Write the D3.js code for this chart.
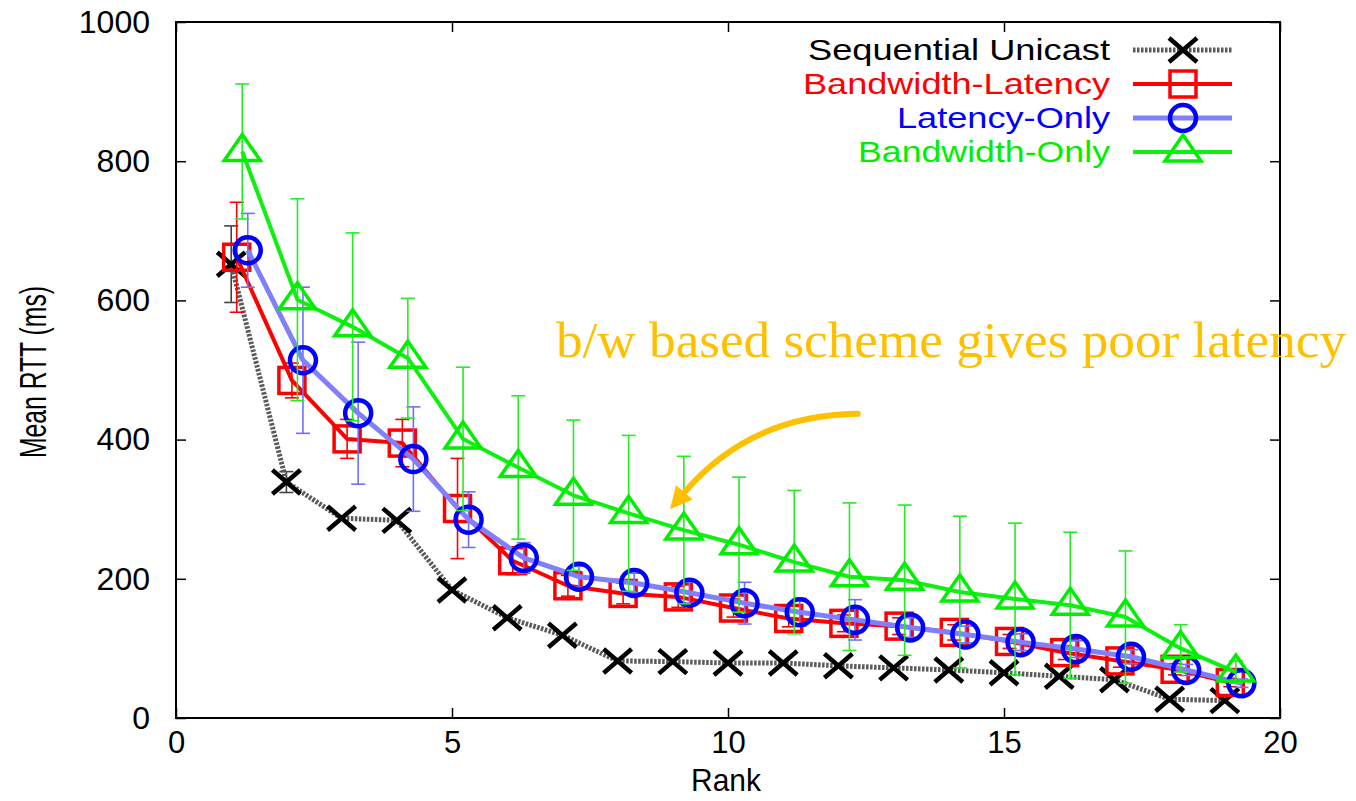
<!DOCTYPE html>
<html lang="en">
<head>
<meta charset="UTF-8">
<title>Mean RTT by Rank</title>
<script src="https://d3js.org/d3.v7.min.js"></script>
<style>
  body { margin: 0; background: #fff; }
</style>
</head>
<body>
<svg width="1356" height="801" id="canvas" font-family="Liberation Sans, Arial, sans-serif"></svg>
<script>
// data
const ranks = [1, 2, 3, 4, 5, 6, 7, 8, 9, 10, 11, 12, 13, 14, 15, 16, 17, 18, 19];

const seqMean = [652, 339, 287, 284, 184, 144, 119, 82, 81, 79, 79, 75, 72, 69, 65, 60, 55, 27, 25];
const seqErr  = [55, 15, 0, 0, 0, 0, 0, 0, 0, 0, 0, 0, 0, 0, 0, 0, 0, 0, 0];

const bwLatMean = [662, 485, 401, 395, 301, 226, 190, 179, 174, 158, 143, 136, 132, 123, 110, 94, 82, 70, 51];
const bwLatErr  = [79, 25, 28, 34, 72, 20, 15, 15, 15, 13, 12, 12, 12, 11, 10, 10, 9, 8, 6];

const latMean = [672, 514, 438, 372, 285, 230, 203, 194, 180, 165, 152, 141, 130, 120, 109, 99, 88, 69, 50];
const latErr  = [53, 105, 102, 75, 40, 22, 15, 14, 15, 30, 20, 29, 14, 12, 12, 12, 10, 8, 6];

const bwMean = [814, 601, 562, 517, 401, 360, 320, 294, 270, 249, 224, 203, 198, 181, 171, 162, 145, 100, 66];
const bwErr  = [97, 145, 135, 86, 103, 103, 108, 112, 106, 97, 103, 106, 108, 109, 109, 105, 95, 34, 16];

const xTicks = [0, 5, 10, 15, 20];
const yTicks = [0, 200, 400, 600, 800, 1000];

const series = [
  { name: "Sequential Unicast", mean: seqMean, err: seqErr, dx: 0,   marker: "x",
    color: "#000", line: "#5a5a5a", width: 5, dash: "2.5,1.5", errColor: "#444", textLen: 302 },
  { name: "Bandwidth-Latency", mean: bwLatMean, err: bwLatErr, dx: 0.1, marker: "square",
    color: "#ff0000", line: "#ff0000", width: 4, dash: null, errColor: "#ff0000", textLen: 307 },
  { name: "Latency-Only", mean: latMean, err: latErr, dx: 0.3, marker: "circle",
    color: "#0000ff", line: "#8080ff", width: 5, dash: null, errColor: "#6f6fff", textLen: 213 },
  { name: "Bandwidth-Only", mean: bwMean, err: bwErr, dx: 0.2, marker: "triangle",
    color: "#00ee00", line: "#11ee11", width: 4, dash: null, errColor: "#22ee22", textLen: 252 }
];

const svg = d3.select("svg");
const plotL = 176, plotR = 1280, plotT = 22, plotB = 718;

const x = d3.scaleLinear().domain([0, 20]).range([plotL, plotR]);
const y = d3.scaleLinear().domain([0, 1000]).range([plotB, plotT]);

// axes, ticks pointing inward
svg.append("g")
  .attr("transform", `translate(0,${plotB})`)
  .call(d3.axisBottom(x).tickValues(xTicks).tickFormat(d3.format("d"))
    .tickSizeInner(-10).tickSizeOuter(0).tickPadding(13))
  .call(g => g.select(".domain").remove())
  .call(g => g.selectAll("text").attr("font-size", 31).attr("fill", "#000")
    .attr("font-family", "Liberation Sans"));

svg.append("g")
  .attr("transform", `translate(0,${plotT})`)
  .call(d3.axisTop(x).tickValues(xTicks).tickSizeInner(-10).tickSizeOuter(0).tickFormat(""))
  .call(g => g.select(".domain").remove());

svg.append("g")
  .attr("transform", `translate(${plotL},0)`)
  .call(d3.axisLeft(y).tickValues(yTicks).tickFormat(d3.format("d"))
    .tickSizeInner(-10).tickSizeOuter(0).tickPadding(26))
  .call(g => g.select(".domain").remove())
  .call(g => g.selectAll("text").attr("font-size", 32).attr("fill", "#000")
    .attr("font-family", "Liberation Sans"));

svg.append("g")
  .attr("transform", `translate(${plotR},0)`)
  .call(d3.axisRight(y).tickValues(yTicks).tickSizeInner(-10).tickSizeOuter(0).tickFormat(""))
  .call(g => g.select(".domain").remove());

svg.selectAll(".tick line").attr("stroke", "#000").attr("stroke-width", 1.5);

// frame
svg.append("rect")
  .attr("x", plotL).attr("y", plotT)
  .attr("width", plotR - plotL).attr("height", plotB - plotT)
  .attr("fill", "none").attr("stroke", "#000").attr("stroke-width", 2);

// axis titles
svg.append("text")
  .attr("transform", "translate(46,372) rotate(-90)")
  .attr("text-anchor", "middle")
  .attr("font-size", 36)
  .attr("textLength", 172).attr("lengthAdjust", "spacingAndGlyphs")
  .text("Mean RTT (ms)");

svg.append("text")
  .attr("x", 726).attr("y", 791)
  .attr("text-anchor", "middle")
  .attr("font-size", 32)
  .attr("textLength", 70).attr("lengthAdjust", "spacingAndGlyphs")
  .text("Rank");

function drawMarker(g, type, color) {
  if (type === "x") {
    g.append("path").attr("d", "M-14,-12L14,12M-14,12L14,-12")
      .attr("stroke", color).attr("stroke-width", 4.5).attr("fill", "none");
  } else if (type === "square") {
    g.append("rect").attr("x", -13).attr("y", -13).attr("width", 26).attr("height", 26)
      .attr("stroke", color).attr("stroke-width", 3.5).attr("fill", "none");
  } else if (type === "circle") {
    g.append("circle").attr("r", 13)
      .attr("stroke", color).attr("stroke-width", 4.5).attr("fill", "none");
  } else {
    g.append("path").attr("d", "M0,-17L18,9L-18,9Z")
      .attr("stroke", color).attr("stroke-width", 3.5).attr("fill", "none");
  }
}

const line = d3.line().x(d => x(d.r)).y(d => y(d.v));

series.forEach(s => {
  const pts = ranks.map((r, i) => ({ r: r + s.dx, v: s.mean[i], e: s.err[i] }));
  const g = svg.append("g");

  // error bars
  const eb = g.selectAll(".eb").data(pts.filter(d => d.e > 0)).enter().append("g");
  eb.append("line")
    .attr("x1", d => x(d.r)).attr("x2", d => x(d.r))
    .attr("y1", d => y(d.v - d.e)).attr("y2", d => y(d.v + d.e))
    .attr("stroke", s.errColor).attr("stroke-width", 1.6);
  [-1, 1].forEach(sgn => {
    eb.append("line")
      .attr("x1", d => x(d.r) - 7).attr("x2", d => x(d.r) + 7)
      .attr("y1", d => y(d.v + sgn * d.e)).attr("y2", d => y(d.v + sgn * d.e))
      .attr("stroke", s.errColor).attr("stroke-width", 1.6);
  });

  g.append("path").datum(pts)
    .attr("d", line)
    .attr("fill", "none")
    .attr("stroke", s.line)
    .attr("stroke-width", s.width)
    .attr("stroke-dasharray", s.dash)
    .attr("stroke-linejoin", "round");

  g.selectAll(".mk").data(pts).enter().append("g")
    .attr("transform", d => `translate(${x(d.r)},${y(d.v)})`)
    .each(function () { drawMarker(d3.select(this), s.marker, s.color); });
});

// legend
const legend = svg.append("g");
series.forEach((s, i) => {
  const ly = 50 + i * 34;
  legend.append("text")
    .attr("x", 1110).attr("y", ly + 10)
    .attr("text-anchor", "end")
    .attr("font-size", 29)
    .attr("fill", s.color)
    .attr("textLength", s.textLen).attr("lengthAdjust", "spacingAndGlyphs")
    .text(s.name);
  legend.append("line")
    .attr("x1", 1133).attr("x2", 1232).attr("y1", ly).attr("y2", ly)
    .attr("stroke", s.line).attr("stroke-width", s.width).attr("stroke-dasharray", s.dash);
  const mg = legend.append("g").attr("transform", `translate(1183,${ly})`);
  drawMarker(mg, s.marker, s.color);
});

// annotation
const note = { text: "b/w based scheme gives poor latency", color: "#ffc000" };
const arrowFrom = [12.35, 437], arrowCtrl = [10.4, 435], arrowTo = [8.95, 300];

svg.append("text")
  .attr("x", 556).attr("y", 357)
  .attr("font-family", "Liberation Serif, Times New Roman, serif")
  .attr("font-size", 50)
  .attr("fill", note.color)
  .attr("textLength", 790).attr("lengthAdjust", "spacingAndGlyphs")
  .text(note.text);

const p0 = [x(arrowFrom[0]), y(arrowFrom[1])];
const pc = [x(arrowCtrl[0]), y(arrowCtrl[1])];
const p1 = [x(arrowTo[0]), y(arrowTo[1])];
const ang = Math.atan2(p1[1] - pc[1], p1[0] - pc[0]);
const headLen = 22, headW = 11;
const base = [p1[0] - headLen * Math.cos(ang), p1[1] - headLen * Math.sin(ang)];

const ap = d3.path();
ap.moveTo(p0[0], p0[1]);
ap.quadraticCurveTo(pc[0], pc[1], base[0], base[1]);
svg.append("path").attr("d", ap.toString())
  .attr("fill", "none").attr("stroke", note.color).attr("stroke-width", 6)
  .attr("stroke-linecap", "round");

const hp = d3.path();
hp.moveTo(p1[0], p1[1]);
hp.lineTo(base[0] + headW * Math.sin(ang), base[1] - headW * Math.cos(ang));
hp.lineTo(base[0] - headW * Math.sin(ang), base[1] + headW * Math.cos(ang));
hp.closePath();
svg.append("path").attr("d", hp.toString()).attr("fill", note.color);
</script>
</body>
</html>
